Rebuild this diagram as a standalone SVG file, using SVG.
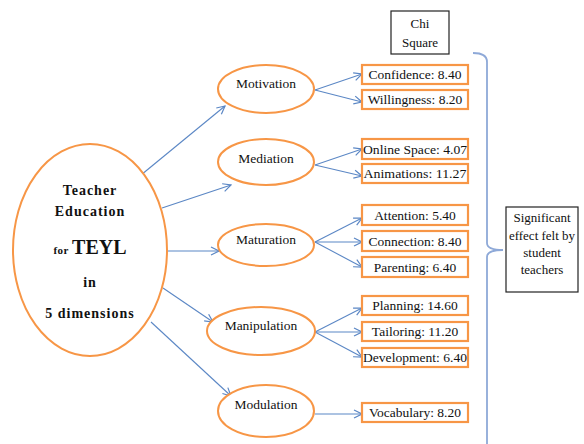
<svg xmlns="http://www.w3.org/2000/svg" width="584" height="444" viewBox="0 0 584 444" font-family="'Liberation Serif', 'Times New Roman', 'DejaVu Serif', serif">
<defs>
<marker id="ah" markerWidth="10" markerHeight="10" refX="9" refY="5" orient="auto" markerUnits="userSpaceOnUse">
<path d="M1,1 L9,5 L1,9" fill="none" stroke="#5B87C5" stroke-width="1.2"/>
</marker>
<style>
.ell{fill:#fff;stroke:#F79646;stroke-width:2}
.box{fill:#fff;stroke:#F79646;stroke-width:2.2}
.bbox{fill:#fff;stroke:#222;stroke-width:1.2}
.t{font-family:'Liberation Serif','Times New Roman','DejaVu Serif',serif;font-size:13.5px;fill:#111;text-anchor:middle}
.s{font-size:13px}
.b{font-family:'Liberation Serif','Times New Roman','DejaVu Serif',serif;font-weight:bold;font-size:14px;fill:#111;text-anchor:middle;letter-spacing:1px}
.c{fill:none;stroke:#5B87C5;stroke-width:1.1;marker-end:url(#ah)}
</style>
</defs>
<rect width="584" height="444" fill="#fff"/>

<g id="connectors">
<line class="c" x1="141" y1="175" x2="225" y2="106"/>
<line class="c" x1="162" y1="208" x2="231" y2="185"/>
<line class="c" x1="167" y1="251" x2="219" y2="251"/>
<line class="c" x1="163" y1="288" x2="213" y2="322"/>
<line class="c" x1="151" y1="322" x2="231" y2="396"/>
<line class="c" x1="315" y1="90" x2="362" y2="74"/>
<line class="c" x1="315" y1="90" x2="362" y2="102"/>
<line class="c" x1="315" y1="165" x2="362" y2="149"/>
<line class="c" x1="315" y1="165" x2="362" y2="176"/>
<line class="c" x1="315" y1="242" x2="362" y2="218"/>
<line class="c" x1="315" y1="242" x2="362" y2="242"/>
<line class="c" x1="315" y1="242" x2="362" y2="267"/>
<line class="c" x1="315" y1="332" x2="362" y2="308"/>
<line class="c" x1="315" y1="332" x2="362" y2="332"/>
<line class="c" x1="315" y1="332" x2="362" y2="357"/>
<line class="c" x1="315" y1="414" x2="362" y2="414"/>
</g>

<g id="bracket">
<path d="M473,53 Q487,53 487,62 L487,243 Q487,250 503,250 Q487,250 487,257 L487,444" fill="none" stroke="#8EA9D8" stroke-width="1.8"/>
</g>

<g id="teyl">
<ellipse class="ell" cx="90" cy="250" rx="77" ry="106"/>
<text class="b" x="90" y="195">Teacher</text>
<text class="b" x="90" y="216">Education</text>
<text class="b" x="90" y="254"><tspan font-size="11" letter-spacing="0.5">for </tspan><tspan font-size="20" letter-spacing="0">TEYL</tspan></text>
<text class="b" x="90" y="287">in</text>
<text class="b" x="90" y="318">5 dimensions</text>
</g>

<g id="motivation"><ellipse class="ell" cx="266" cy="89" rx="48" ry="24"/><text class="t" x="266" y="88">Motivation</text></g>
<g id="mediation"><ellipse class="ell" cx="266" cy="162" rx="48" ry="23"/><text class="t" x="266" y="163">Mediation</text></g>
<g id="maturation"><ellipse class="ell" cx="266" cy="245" rx="48" ry="21"/><text class="t" x="266" y="244">Maturation</text></g>
<g id="manipulation"><ellipse class="ell" cx="261" cy="331" rx="54" ry="24"/><text class="t" x="261" y="330">Manipulation</text></g>
<g id="modulation"><ellipse class="ell" cx="266" cy="411" rx="48" ry="26"/><text class="t" x="266" y="409">Modulation</text></g>

<g id="confidence"><rect class="box" x="362" y="65" width="106" height="19"/><text class="t" x="415" y="79">Confidence: 8.40</text></g>
<g id="willingness"><rect class="box" x="362" y="90" width="106" height="19"/><text class="t" x="415" y="104">Willingness: 8.20</text></g>
<g id="online"><rect class="box" x="362" y="139" width="106" height="20"/><text class="t" x="415" y="153.5" textLength="104" lengthAdjust="spacingAndGlyphs">Online Space: 4.07</text></g>
<g id="animations"><rect class="box" x="362" y="164" width="106" height="19"/><text class="t" x="415" y="178" textLength="103" lengthAdjust="spacingAndGlyphs">Animations: 11.27</text></g>
<g id="attention"><rect class="box" x="362" y="205" width="106" height="20"/><text class="t" x="415" y="219.5">Attention: 5.40</text></g>
<g id="connection"><rect class="box" x="362" y="231" width="106" height="20"/><text class="t" x="415" y="245.5">Connection: 8.40</text></g>
<g id="parenting"><rect class="box" x="362" y="257" width="106" height="20"/><text class="t" x="415" y="271.5">Parenting: 6.40</text></g>
<g id="planning"><rect class="box" x="362" y="296" width="106" height="19"/><text class="t" x="415" y="310">Planning: 14.60</text></g>
<g id="tailoring"><rect class="box" x="362" y="322" width="106" height="19"/><text class="t" x="415" y="336">Tailoring: 11.20</text></g>
<g id="development"><rect class="box" x="362" y="348" width="106" height="19"/><text class="t" x="415" y="362" textLength="104" lengthAdjust="spacingAndGlyphs">Development: 6.40</text></g>
<g id="vocabulary"><rect class="box" x="362" y="403" width="106" height="19"/><text class="t" x="415" y="417">Vocabulary: 8.20</text></g>

<g id="chisquare"><rect class="bbox" x="391" y="11" width="58" height="43"/><text class="t s" x="420" y="28">Chi</text><text class="t s" x="420" y="47">Square</text></g>

<g id="significant"><rect class="bbox" x="506" y="207" width="72" height="85"/>
<text class="t s" x="542" y="222">Significant</text>
<text class="t s" x="542" y="240">effect felt by</text>
<text class="t s" x="542" y="257">student</text>
<text class="t s" x="542" y="274">teachers</text>
</g>
</svg>
